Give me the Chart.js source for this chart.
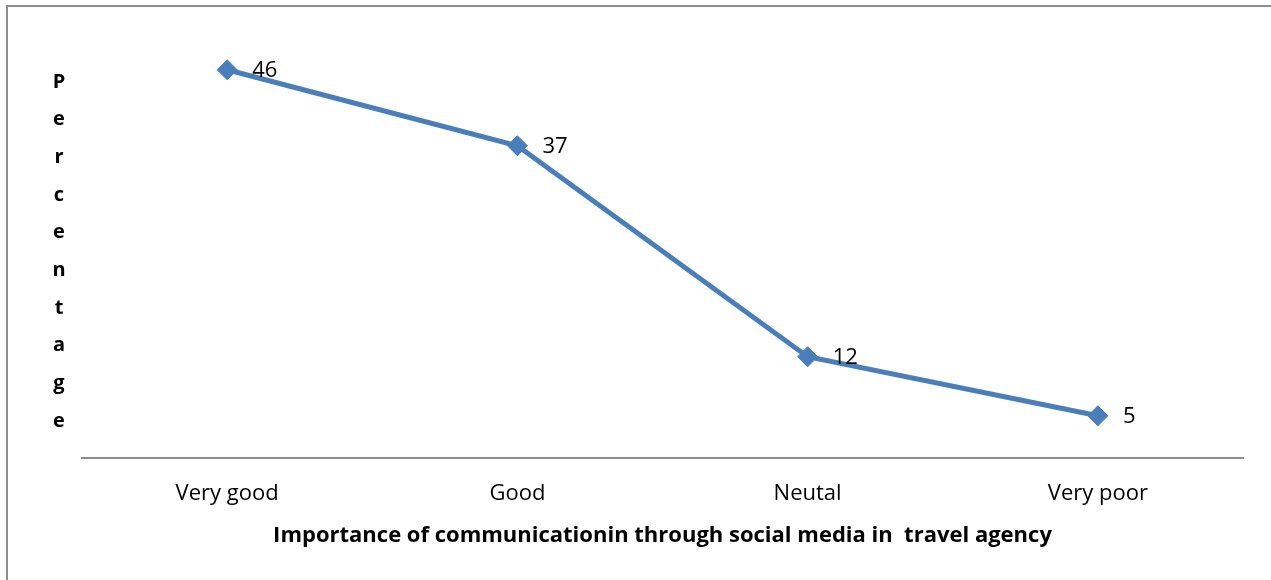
<!DOCTYPE html>
<html>
<head>
<meta charset="utf-8">
<script src="https://cdn.jsdelivr.net/npm/chart.js@4.4.1/dist/chart.umd.min.js"></script>
<style>
  html, body { margin: 0; padding: 0; background: #ffffff; }
  #wrap { width: 1271px; height: 580px; position: relative; }
</style>
</head>
<body>
<div id="wrap"><canvas id="ratingChart"></canvas></div>
<script>
// survey answers, percent of respondents
const categories = ["Very good", "Good", "Neutal", "Very poor"];
const percentages = [46, 37, 12, 5];
const yAxisTitle = "Percentage";
const xAxisTitle = "Importance of communicationin through social media in  travel agency";

const FONT = "'Open Sans', Lato, sans-serif";
const LINE_BLUE = "#4a7ebb";

// frame lines along the top and left edges
const framePlugin = {
    id: "frame",
    beforeDraw(chart) {
        const ctx = chart.ctx;
        ctx.save();
        ctx.strokeStyle = "#8c8c8c";
        ctx.lineWidth = 2;
        ctx.beginPath();
        ctx.moveTo(7, chart.height);
        ctx.lineTo(7, 6);
        ctx.lineTo(chart.width, 6);
        ctx.stroke();
        ctx.restore();
    }
};

// the y title is stacked letter by letter instead of rotated
const stackedTitlePlugin = {
    id: "stackedTitle",
    afterDraw(chart) {
        const ctx = chart.ctx;
        const letters = yAxisTitle.split("");
        const firstY = 82, lastY = 421;
        const step = (lastY - firstY) / (letters.length - 1);
        ctx.save();
        ctx.fillStyle = "#000000";
        ctx.font = "bold 20px " + FONT;
        ctx.textAlign = "center";
        ctx.textBaseline = "middle";
        letters.forEach((ch, i) => ctx.fillText(ch, 59, firstY + i * step));
        ctx.restore();
    }
};

// value printed to the right of each marker
const valueLabelPlugin = {
    id: "valueLabels",
    afterDatasetsDraw(chart) {
        const ctx = chart.ctx;
        const meta = chart.getDatasetMeta(0);
        ctx.save();
        ctx.fillStyle = "#000000";
        ctx.font = "22px " + FONT;
        ctx.textAlign = "left";
        ctx.textBaseline = "middle";
        meta.data.forEach((pt, i) => {
            ctx.fillText(String(percentages[i]), pt.x + 25, pt.y + 1);
        });
        ctx.restore();
    }
};

new Chart(document.getElementById("ratingChart"), {
    type: "line",
    data: {
        labels: categories,
        datasets: [{
            data: percentages,
            borderColor: LINE_BLUE,
            backgroundColor: LINE_BLUE,
            borderWidth: 5,
            pointStyle: "rectRot",
            pointRadius: 10,
            pointBorderWidth: 1,
            pointBackgroundColor: LINE_BLUE,
            pointBorderColor: LINE_BLUE,
            tension: 0,
            fill: false
        }]
    },
    options: {
        responsive: true,
        maintainAspectRatio: false,
        animation: false,
        layout: { padding: { top: 36, left: 82, right: 28, bottom: 0 } },
        plugins: {
            legend: { display: false },
            tooltip: { enabled: false }
        },
        scales: {
            y: {
                display: false,
                min: 0,
                max: 50
            },
            x: {
                offset: true,
                grid: { display: false, drawTicks: false },
                border: { display: true, color: "#8c8c8c", width: 2 },
                ticks: {
                    color: "#000000",
                    padding: 23,
                    maxRotation: 0,
                    font: { family: FONT, size: 22 }
                },
                title: {
                    display: true,
                    text: xAxisTitle,
                    color: "#000000",
                    padding: { top: 0, bottom: 31 },
                    font: { family: FONT, size: 22, weight: "bold" }
                },
                afterFit(scale) { scale.height = 122; }
            }
        }
    },
    plugins: [framePlugin, stackedTitlePlugin, valueLabelPlugin]
});
</script>
</body>
</html>
